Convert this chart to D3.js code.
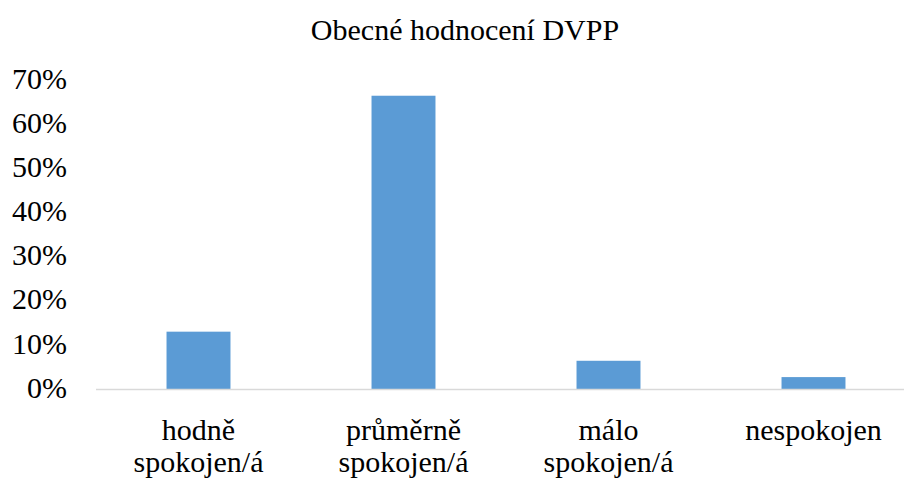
<!DOCTYPE html>
<html>
<head>
<meta charset="utf-8">
<script src="https://cdnjs.cloudflare.com/ajax/libs/d3/7.8.5/d3.min.js"></script>
<style>
	body { margin: 0; background: #fff; }
</style>
</head>
<body>
<div class="chart"></div>
<script>
// chart data
var title = 'Obecné hodnocení DVPP';
var categories = [['hodně', 'spokojen/á'], ['průměrně', 'spokojen/á'], ['málo', 'spokojen/á'], ['nespokojen']];
var values = [13.0, 66.5, 6.4, 2.7];
var yTicks = [0, 10, 20, 30, 40, 50, 60, 70];

var fullWidth = 904;
var fullHeight = 479;

function fontFam() { return 'Liberation Serif'; }

var svg = d3.select('.chart')
	.append('svg')
	.attr('width', fullWidth)
	.attr('height', fullHeight)
	.attr('font-family', 'Liberation Serif');

var xScale = d3.scaleBand()
	.domain(d3.range(categories.length))
	.range([96, 916])
	.paddingInner(0.688)
	.paddingOuter(0.344);

var yScale = d3.scaleLinear()
	.domain([0, 70])
	.range([389, 80.3]);

// title
svg.selectAll('.title')
	.data([title])
	.enter()
	.append('text')
	.attr('class', 'title')
	.attr('x', 465)
	.attr('y', 40)
	.attr('text-anchor', 'middle')
	.style('font-family', fontFam)
	.style('font-size', '30px')
	.text(function (d) { return d; });

// y axis labels (no line)
var yAxis = d3.axisLeft(yScale)
	.tickValues(yTicks)
	.tickSize(0)
	.tickPadding(0)
	.tickFormat(function (d) { return d + '%'; });

var yg = svg.append('g')
	.attr('class', 'yaxis')
	.attr('transform', 'translate(67, -1.5)')
	.call(yAxis)
	.attr('font-family', 'Liberation Serif');
yg.select('.domain').remove();
yg.selectAll('text')
	.style('font-family', fontFam)
	.style('font-size', '30px')
	.style('fill', '#000');

// bars
svg.selectAll('.bar')
	.data(values)
	.enter()
	.append('rect')
	.attr('class', 'bar')
	.attr('x', function (d, i) { return xScale(i); })
	.attr('y', function (d) { return yScale(d); })
	.attr('width', xScale.bandwidth())
	.attr('height', function (d) { return yScale(0) - yScale(d); })
	.style('fill', '#5b9bd5');

// baseline
svg.append('line')
	.attr('x1', 96)
	.attr('x2', 916)
	.attr('y1', yScale(0) + 0.5)
	.attr('y2', yScale(0) + 0.5)
	.style('stroke', '#d9d9d9')
	.style('stroke-width', 1.5);

// category labels
var labels = svg.selectAll('.cat')
	.data(categories)
	.enter()
	.append('text')
	.attr('class', 'cat')
	.attr('text-anchor', 'middle')
	.style('font-family', fontFam)
	.style('font-size', '30px')
	.attr('transform', function (d, i) {
		return 'translate(' + (xScale(i) + xScale.bandwidth() / 2) + ', 440)';
	});

labels.selectAll('tspan')
	.data(function (d) { return d; })
	.enter()
	.append('tspan')
	.attr('x', 0)
	.attr('y', function (d, i) { return i * 32; })
	.style('font-family', fontFam)
	.text(function (d) { return d; });
</script>
</body>
</html>
